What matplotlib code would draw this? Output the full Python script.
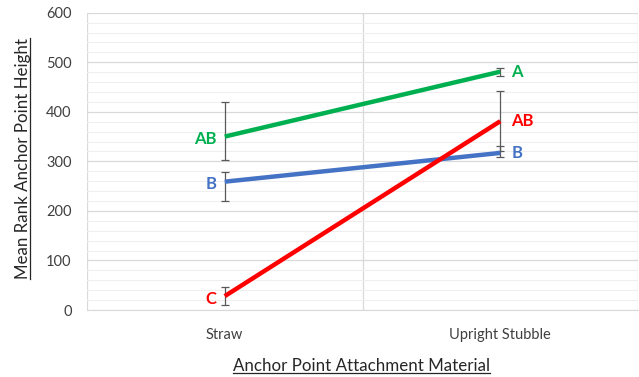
import matplotlib
matplotlib.use("Agg")
import matplotlib.pyplot as plt
from matplotlib.lines import Line2D
from matplotlib.ticker import MultipleLocator
import numpy as np

plt.rcParams['font.family'] = ['Lato', 'DejaVu Sans']

# data
materials = ["Straw", "Upright Stubble"]
green_vals = [350, 481]
green_err_low = [48, 9]
green_err_high = [70, 8]
green_letters = ["AB", "A"]
blue_vals = [259, 317]
blue_err_low = [40, 8]
blue_err_high = [20, 13]
blue_letters = ["B", "B"]
red_vals = [28, 381]
red_err_low = [18, 61]
red_err_high = [19, 61]
red_letters = ["C", "AB"]

colors = {"green": "#00B050", "blue": "#4472C4", "red": "#FF0000"}

fig = plt.figure(figsize=(6.39, 3.77), dpi=100)
ax = fig.add_axes([87/639, 1-310/377, (638-87)/639, (310-12.7)/377])

x = np.arange(1, len(materials) + 1)
series = [
    ("green", green_vals, green_err_low, green_err_high, green_letters),
    ("blue", blue_vals, blue_err_low, blue_err_high, blue_letters),
    ("red", red_vals, red_err_low, red_err_high, red_letters),
]
for name, vals, lo, hi, letters in series:
    c = colors[name]
    ax.plot(x, vals, color=c, lw=3.2, solid_capstyle='butt', zorder=3)
    ax.errorbar(x, vals, yerr=[lo, hi], fmt='none', ecolor='#595959',
                elinewidth=0.9, capsize=3, capthick=0.9, zorder=2)
    ax.annotate(letters[0], (x[0], vals[0]), xytext=(-6, -2),
                textcoords='offset points', ha='right', va='center',
                color=c, fontweight='bold', fontsize=12)
    ax.annotate(letters[1], (x[1], vals[1]), xytext=(8, 0),
                textcoords='offset points', ha='left', va='center',
                color=c, fontweight='bold', fontsize=12)

ax.set_xlim(0.5, len(materials) + 0.5)
ax.set_ylim(0, 600)
ax.set_xticks(x)
ax.set_xticklabels(materials)
ax.set_xticks(np.arange(0.5, len(materials) + 1, 1), minor=True)
ax.yaxis.set_major_locator(MultipleLocator(100))
ax.yaxis.set_minor_locator(MultipleLocator(20))
ax.tick_params(axis='both', which='both', length=0, labelsize=10.5,
               labelcolor='#404040')
ax.tick_params(axis='x', pad=13)
ax.tick_params(axis='y', pad=11)

ax.grid(which='major', axis='y', color='#D9D9D9', lw=0.9, zorder=0)
ax.grid(which='minor', axis='y', color='#EFEFEF', lw=0.8, zorder=0)
ax.grid(which='minor', axis='x', color='#D9D9D9', lw=0.9, zorder=0)
ax.set_axisbelow(True)
for s in ['left', 'right', 'top']:
    ax.spines[s].set_visible(False)
ax.spines['bottom'].set_color('#D9D9D9')

ylab = fig.text(0.036, 0.580, "Mean Rank Anchor Point Height", rotation=90,
                ha='center', va='center', fontsize=12.2, color='#262626')
xlab = fig.text(0.566, 0.030, "Anchor Point Attachment Material",
                ha='center', va='center', fontsize=12.2, color='#262626')

# underline the axis titles
fig.canvas.draw()
r = fig.canvas.get_renderer()
inv = fig.transFigure.inverted()
bb = xlab.get_window_extent(r)
(x0, y0), (x1, y1) = inv.transform([(bb.x0, bb.y0 + 1), (bb.x1, bb.y0 + 1)])
fig.add_artist(Line2D([x0, x1], [y0, y1], color='#262626', lw=0.9,
                      transform=fig.transFigure))
bb = ylab.get_window_extent(r)
(x0, y0), (x1, y1) = inv.transform([(bb.x1 - 1, bb.y0), (bb.x1 - 1, bb.y1)])
fig.add_artist(Line2D([x0, x1], [y0, y1], color='#262626', lw=0.9,
                      transform=fig.transFigure))

fig.savefig("out.png", dpi=100)
